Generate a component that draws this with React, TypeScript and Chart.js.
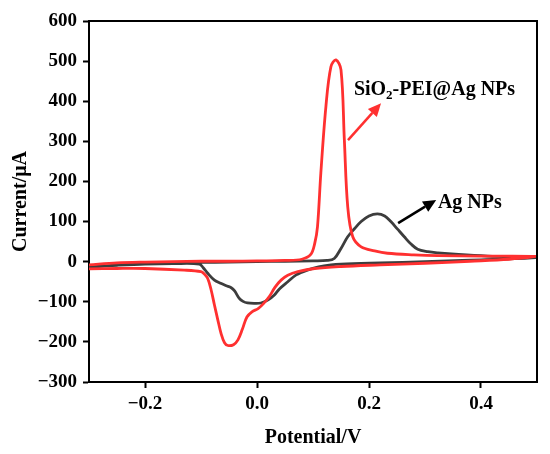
import React, { useRef, useEffect } from 'react'
import { Chart, registerables } from 'chart.js'

Chart.register(...registerables)

// SiO2-PEI@Ag NPs, forward scan then reverse scan
const redX = [
	-0.3, -0.25, -0.2, -0.15, -0.1, -0.05, 0.0, 0.05, 0.08, 0.096, 0.103, 0.108, 0.114, 0.123, 0.132, 0.141, 0.15, 0.156,
	0.162, 0.171, 0.186, 0.21, 0.233, 0.28, 0.323, 0.4, 0.5,
	0.45, 0.38, 0.3, 0.22, 0.15, 0.103, 0.073, 0.055, 0.043, 0.032, 0.022, 0.012, 0.002, -0.009, -0.018, -0.026, -0.034,
	-0.042, -0.052, -0.058, -0.064, -0.07, -0.076, -0.082, -0.088, -0.094, -0.1, -0.13, -0.2, -0.25, -0.3,
]
const redY = [
	-8, -3, -1, 0, 1, 1, 2, 3, 6, 18, 45, 87, 221, 386, 486, 503, 478, 303,
	137, 62, 37, 27, 21, 17, 15, 14, 13,
	6, 1, -4, -8, -12, -17, -25, -34, -46, -64, -87, -104, -117, -125, -138, -168, -195,
	-207, -209, -202, -180, -145, -108, -70, -42, -31, -25, -21, -17, -17, -18,
]

// Ag NPs, forward scan then reverse scan
const grayX = [
	-0.3, -0.25, -0.2, -0.15, -0.1, -0.05, 0.0, 0.05, 0.1, 0.125, 0.138, 0.15, 0.162, 0.174, 0.186, 0.2, 0.215, 0.228,
	0.239, 0.251, 0.263, 0.275, 0.287, 0.305, 0.323, 0.36, 0.412, 0.46, 0.5,
	0.45, 0.38, 0.3, 0.22, 0.15, 0.132, 0.11, 0.09, 0.07, 0.055, 0.04, 0.031, 0.02, 0.007, -0.005, -0.017, -0.025, -0.032,
	-0.04, -0.046, -0.055, -0.065, -0.076, -0.088, -0.096, -0.103, -0.15, -0.2, -0.25, -0.3,
]
const grayY = [
	-15, -8, -5, -3, -2, -1, 0, 1, 2, 3, 8, 33, 62, 82, 100, 114, 119, 114,
	100, 81, 62, 44, 31, 25, 22, 18, 14, 12, 11,
	7, 4, 0, -3, -6, -8, -13, -21, -33, -50, -68, -83, -95, -103, -104, -103, -99, -91,
	-73, -65, -60, -54, -46, -29, -15, -6, -5, -6, -9, -13,
]

const xTicks = [-0.2, 0.0, 0.2, 0.4]
const yTicks = [-300, -200, -100, 0, 100, 200, 300, 400, 500, 600]

const RED = '#ff3030'
const GRAY = '#3d3d3d'
const FONT = '"Liberation Serif", "Times New Roman", serif'

const toPoints = (xs: number[], ys: number[]) => xs.map((x, i) => ({ x, y: ys[i] }))
const fmt = (v: number, digits: number) => v.toFixed(digits).replace('-', '\u2212')

const drawArrow = (ctx: CanvasRenderingContext2D, x1: number, y1: number, x2: number, y2: number, color: string) => {
	const ang = Math.atan2(y2 - y1, x2 - x1)
	const len = 13
	const half = 6
	const bx = x2 - len * Math.cos(ang)
	const by = y2 - len * Math.sin(ang)
	ctx.strokeStyle = color
	ctx.fillStyle = color
	ctx.lineWidth = 2.5
	ctx.beginPath()
	ctx.moveTo(x1, y1)
	ctx.lineTo(bx, by)
	ctx.stroke()
	ctx.beginPath()
	ctx.moveTo(x2, y2)
	ctx.lineTo(bx + half * Math.sin(ang), by - half * Math.cos(ang))
	ctx.lineTo(bx - half * Math.sin(ang), by + half * Math.cos(ang))
	ctx.closePath()
	ctx.fill()
}

const annotations = {
	id: 'annotations',
	afterDraw(chart: any) {
		const { ctx, chartArea, scales } = chart
		const px = (v: number) => scales.x.getPixelForValue(v)
		const py = (v: number) => scales.y.getPixelForValue(v)
		ctx.save()
		// top and right frame
		ctx.strokeStyle = '#000'
		ctx.lineWidth = 2
		ctx.beginPath()
		ctx.moveTo(chartArea.left, chartArea.top)
		ctx.lineTo(chartArea.right, chartArea.top)
		ctx.lineTo(chartArea.right, chartArea.bottom)
		ctx.stroke()

		drawArrow(ctx, px(0.1625), py(303), px(0.2215), py(395), RED)
		drawArrow(ctx, px(0.252), py(96), px(0.32), py(154), '#000')

		ctx.fillStyle = '#000'
		ctx.textBaseline = 'middle'
		ctx.textAlign = 'left'
		// SiO2-PEI@Ag NPs with subscript
		let tx = px(0.173)
		const ty = py(428)
		ctx.font = `bold 20px ${FONT}`
		ctx.fillText('SiO', tx, ty)
		tx += ctx.measureText('SiO').width
		ctx.font = `bold 13px ${FONT}`
		ctx.fillText('2', tx, ty + 6)
		tx += ctx.measureText('2').width
		ctx.font = `bold 20px ${FONT}`
		ctx.fillText('-PEI@Ag NPs', tx, ty)

		ctx.fillText('Ag NPs', px(0.323), py(146))
		ctx.restore()
	},
}

const CVChart: React.FC = () => {
	const chartRef = useRef<HTMLCanvasElement | null>(null)

	useEffect(() => {
		document.body.style.margin = '0'
		if (!chartRef.current) return
		const ctx = chartRef.current.getContext('2d')
		if (!ctx) return
		const tickFont = { family: FONT, size: 19, weight: 'bold' as const }
		const titleFont = { family: FONT, size: 20, weight: 'bold' as const }
		const newChart = new Chart(ctx, {
			type: 'line',
			data: {
				datasets: [
					{
						label: 'SiO2-PEI@Ag NPs',
						data: toPoints(redX, redY),
						borderColor: RED,
						backgroundColor: 'transparent',
						borderWidth: 2.8,
						pointRadius: 0,
						tension: 0.35,
						order: 0,
					},
					{
						label: 'Ag NPs',
						data: toPoints(grayX, grayY),
						borderColor: GRAY,
						backgroundColor: 'transparent',
						borderWidth: 2.8,
						pointRadius: 0,
						tension: 0.35,
						order: 1,
					},
				],
			},
			options: {
				animation: false,
				responsive: true,
				maintainAspectRatio: false,
				layout: { padding: { top: 21, right: 13, left: 0, bottom: 0 } },
				plugins: {
					legend: { display: false },
					tooltip: { enabled: false },
				},
				scales: {
					x: {
						type: 'linear',
						min: -0.3,
						max: 0.5,
						afterBuildTicks: (scale: any) => {
							scale.ticks = xTicks.map(v => ({ value: v }))
						},
						afterFit: (scale: any) => {
							scale.height = 72
						},
						ticks: {
							color: '#000',
							font: tickFont,
							padding: 5,
							maxRotation: 0,
							callback: (v: any) => fmt(Number(v), 1),
						},
						grid: {
							drawOnChartArea: false,
							drawTicks: true,
							tickLength: 6,
							tickWidth: 2,
							tickColor: '#000',
						},
						border: { color: '#000', width: 2 },
						title: {
							display: true,
							text: 'Potential/V',
							color: '#000',
							font: titleFont,
							padding: { top: 0, bottom: 4 },
						},
					},
					y: {
						type: 'linear',
						min: -300,
						max: 600,
						afterBuildTicks: (scale: any) => {
							scale.ticks = yTicks.map(v => ({ value: v }))
						},
						afterFit: (scale: any) => {
							scale.width = 89
						},
						ticks: {
							color: '#000',
							font: tickFont,
							padding: 6,
							callback: (v: any) => fmt(Number(v), 0),
						},
						grid: {
							drawOnChartArea: false,
							drawTicks: true,
							tickLength: 6,
							tickWidth: 2,
							tickColor: '#000',
						},
						border: { color: '#000', width: 2 },
						title: {
							display: true,
							text: 'Current/μA',
							color: '#000',
							font: titleFont,
							padding: { top: 9, bottom: 0 },
						},
					},
				},
			},
			plugins: [annotations],
		})

		return () => {
			newChart.destroy()
		}
	}, [])

	return (
		<div style={{ width: 550, height: 454, position: 'relative' }}>
			<canvas ref={chartRef} />
		</div>
	)
}

export default function App() {
	return <CVChart />
}
